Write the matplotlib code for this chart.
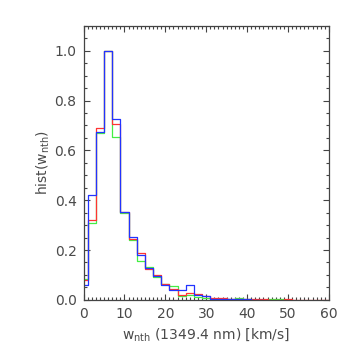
"""Histogram of non-thermal widths (1349.4 nm), three step curves."""
import matplotlib
matplotlib.use("Agg")
import matplotlib.pyplot as plt
import numpy as np
from matplotlib.ticker import MultipleLocator, FormatStrFormatter

# bin centres (km/s) and normalised counts
x_red = np.arange(0, 62, 2)
red = [0.08, 0.32, 0.69, 1.0, 0.705, 0.353, 0.245, 0.188, 0.125, 0.10,
       0.064, 0.044, 0.02, 0.027, 0.024, 0.015, 0.008, 0.008, 0.004, 0.003,
       0.003, 0.002, 0.002, 0.001, 0.001, 0.002, 0.001, 0.001, 0.0, 0.0, 0.0]

x_green = np.arange(0, 52, 2)
green = [0.085, 0.31, 0.668, 1.0, 0.654, 0.349, 0.241, 0.154, 0.131, 0.091,
         0.062, 0.054, 0.015, 0.018, 0.011, 0.008, 0.004, 0.003, 0.002, 0.008,
         0.002, 0.001, 0.0, 0.002, 0.002, 0.001]

x_blue = np.arange(0, 46, 2)
blue = [0.058, 0.42, 0.674, 1.0, 0.727, 0.353, 0.252, 0.182, 0.127, 0.094,
        0.058, 0.038, 0.038, 0.058, 0.018, 0.015, 0.004, 0.003, 0.003, 0.002,
        0.002, 0.0, 0.0]

TXT = "#4a4a4a"

fig = plt.figure(figsize=(3.54, 3.54), dpi=100)
ax = fig.add_axes([0.236, 0.153, 0.693, 0.774])

ax.step(x_green, green, where="mid", color="#44ee44", lw=0.9)
ax.step(x_red, red, where="mid", color="#ff3333", lw=0.9)
ax.step(x_blue, blue, where="mid", color="#2233ff", lw=0.9)

ax.set_xlim(0, 60)
ax.set_ylim(0, 1.1)
ax.xaxis.set_major_locator(MultipleLocator(10))
ax.xaxis.set_minor_locator(MultipleLocator(1))
ax.yaxis.set_major_locator(MultipleLocator(0.2))
ax.yaxis.set_minor_locator(MultipleLocator(0.05))
ax.yaxis.set_major_formatter(FormatStrFormatter("%.1f"))
ax.tick_params(which="both", direction="in", top=True, right=True,
               colors="#444444", labelcolor=TXT, labelsize=10, width=0.8)
ax.tick_params(which="major", length=4.5, pad=5)
ax.tick_params(which="minor", length=2)
for s in ax.spines.values():
    s.set_color("#444444")
    s.set_linewidth(0.9)

ax.set_xlabel(r"w$_{\rm nth}$ (1349.4 nm) [km/s]", fontsize=10, color=TXT)
ax.set_ylabel(r"hist(w$_{\rm nth}$)", fontsize=10, color=TXT, labelpad=2)

fig.savefig("out.png", dpi=100)
